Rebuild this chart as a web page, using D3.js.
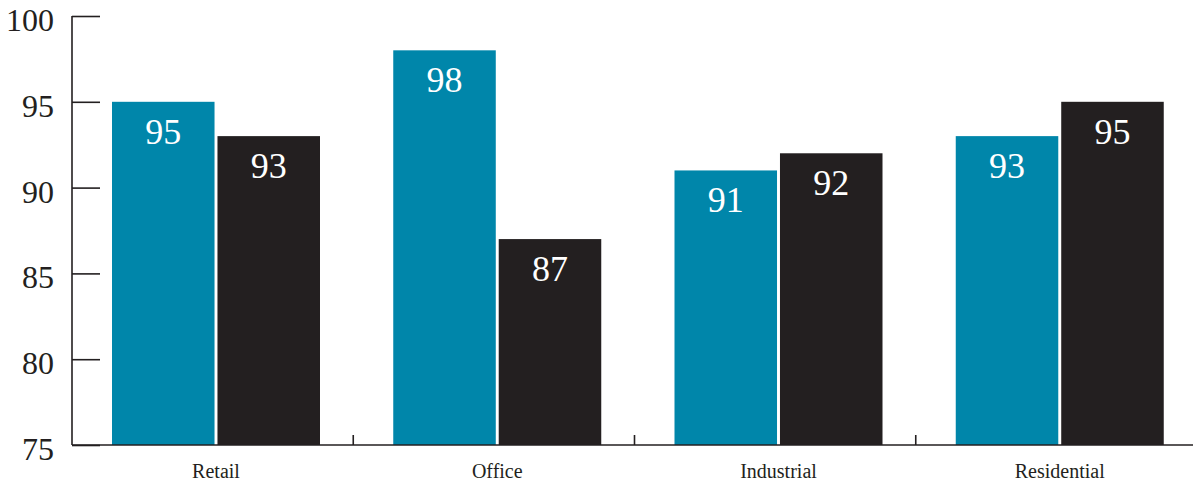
<!DOCTYPE html>
<html>
<head>
<meta charset="utf-8">
<script src="https://cdn.jsdelivr.net/npm/d3@7"></script>
<style>
  html, body { margin: 0; padding: 0; background: #fff; }
  svg { display: block; }
</style>
</head>
<body>
<svg id="chart" width="1193" height="482"></svg>
<script>
// Values per sector for the two series
const categories = ["Retail", "Office", "Industrial", "Residential"];
const seriesKeys = ["first", "second"];
const firstValues = [95, 98, 91, 93];
const secondValues = [93, 87, 92, 95];
const yTicks = [75, 80, 85, 90, 95, 100];
const seriesColors = ["#0086aa", "#231f20"];

const serif = "'Liberation Serif'";
const svg = d3.select("#chart");
const axisColor = "#231f20";

const x0 = d3.scaleBand().domain(categories).range([72, 1197]);
const x1 = d3.scaleBand().domain(seriesKeys).range([40, 248]).paddingInner(0.028);
const y = d3.scaleLinear().domain([75, 100]).range([445, 16]);

const rows = categories.map((c, i) => ({
  category: c,
  values: [
    { key: "first", value: firstValues[i] },
    { key: "second", value: secondValues[i] }
  ]
}));

const color = d3.scaleOrdinal().domain(seriesKeys).range(seriesColors);

// Bars
const groups = svg.append("g").selectAll("g")
  .data(rows).join("g")
  .attr("transform", d => `translate(${x0(d.category)},0)`);

groups.selectAll("rect")
  .data(d => d.values).join("rect")
  .attr("x", d => x1(d.key))
  .attr("y", d => y(d.value))
  .attr("width", x1.bandwidth())
  .attr("height", d => y(75) - y(d.value))
  .attr("fill", d => color(d.key));

// Value labels inside bar tops
groups.selectAll("text.val")
  .data(d => d.values).join("text")
  .attr("class", "val")
  .attr("x", d => x1(d.key) + x1.bandwidth() / 2)
  .attr("y", d => y(d.value) + 42)
  .attr("text-anchor", "middle")
  .attr("fill", "#fff")
  .style("font-family", serif)
  .attr("font-size", 36)
  .text(d => d.value);

// Y axis: ticks pointing inward, labels on the left
const yAxis = d3.axisRight(y).tickValues(yTicks).tickSize(28).tickFormat("");
const yg = svg.append("g").attr("transform", "translate(72,0)").call(yAxis);
yg.select(".domain").remove();
yg.selectAll(".tick line").attr("stroke", axisColor).attr("stroke-width", 1.6);
svg.append("line")
  .attr("x1", 72).attr("x2", 72)
  .attr("y1", y(100)).attr("y2", y(75))
  .attr("stroke", axisColor).attr("stroke-width", 1.6);

svg.append("g").selectAll("text")
  .data(yTicks).join("text")
  .attr("x", 54)
  .attr("y", d => y(d) + 15)
  .attr("text-anchor", "end")
  .attr("fill", axisColor)
  .style("font-family", serif)
  .attr("font-size", 32)
  .text(d => d);

// X axis: baseline with short upward separators between categories
svg.append("line")
  .attr("x1", 72).attr("x2", 1193)
  .attr("y1", y(75)).attr("y2", y(75))
  .attr("stroke", axisColor).attr("stroke-width", 1.6);

svg.append("g").selectAll("line")
  .data(categories.slice(1)).join("line")
  .attr("x1", d => x0(d)).attr("x2", d => x0(d))
  .attr("y1", y(75) - 10).attr("y2", y(75))
  .attr("stroke", axisColor).attr("stroke-width", 1.6);

svg.append("g").selectAll("text")
  .data(categories).join("text")
  .attr("x", d => x0(d) + 144)
  .attr("y", 478)
  .attr("text-anchor", "middle")
  .attr("fill", axisColor)
  .style("font-family", serif)
  .attr("font-size", 20)
  .text(d => d);
</script>
</body>
</html>
